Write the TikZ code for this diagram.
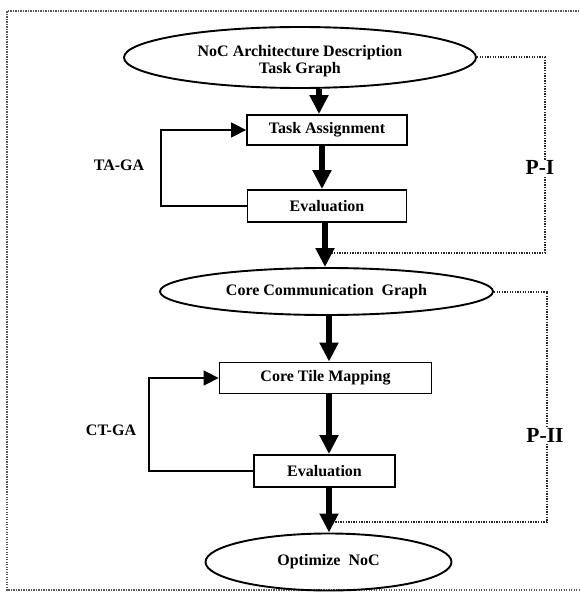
\documentclass[tikz,border=0pt]{standalone}
\usepackage{fontspec}
\setmainfont{Liberation Serif}
\usetikzlibrary{shapes.geometric,arrows.meta,calc}

\tikzset{
  txt/.style={font=\fontsize{16}{17}\selectfont\bfseries},
  plab/.style={font=\fontsize{21.5}{22}\selectfont\bfseries, fill=white, inner sep=0.5pt},
  oval/.style={ellipse, draw, line width=1.9pt, inner sep=0pt, txt, align=center},
  stepbox/.style={rectangle, draw, line width=1.8pt, inner sep=0pt, txt},
  bigarrow/.style={line width=6.5pt, -{Triangle[length=19pt,width=18pt]}},
  looparrow/.style={line width=1.5pt, -{Triangle[length=15pt,width=15pt]}},
  pdot/.style={line width=2pt, dash pattern=on 1.3pt off 1.3pt, black!85},
  frame/.style={line width=1.7pt, dash pattern=on 1.2pt off 1.3pt, black!65}
}

\begin{document}
\begin{tikzpicture}[x=1pt, y=-1pt]
  \useasboundingbox (0,0) rectangle (579,593);

  % outer dotted border
  \draw[frame] (579,11) -- (7,11) -- (7,590) -- (579,590);

  % phase I
  \node[oval, minimum width=352pt, minimum height=61pt] (tg) at (300,57.5)
    {\rule{0pt}{19pt}NoC Architecture Description\\Task Graph};
  \node[stepbox, minimum width=160pt, minimum height=30pt] (ta) at (327,130) {Task Assignment};
  \node[stepbox, minimum width=159pt, minimum height=32pt] (ev1) at (327,206) {Evaluation};

  % phase II
  \node[oval, minimum width=333pt, minimum height=47pt] (ccg) at (326.5,291.5)
    {Core Communication\ \ Graph};
  \node[stepbox, minimum width=212pt, minimum height=31pt] (ctm) at (325.5,378) {Core Tile Mapping};
  \node[stepbox, minimum width=141pt, minimum height=32pt] (ev2) at (324.5,471) {Evaluation};
  \node[oval, minimum width=246pt, minimum height=57pt] (on) at (328.5,562) {Optimize\ \ NoC};

  % main flow
  \draw[bigarrow] ($(tg.south)+(19,0)$) -- ($(ta.north)+(-8,0)$);
  \draw[bigarrow] ($(ta.south)+(-5,0)$) -- ($(ev1.north)+(-5,0)$);
  \draw[bigarrow] ($(ev1.south)+(-2,0)$) -- ($(ccg.north)+(-1.5,0)$);
  \draw[bigarrow] ($(ccg.south)+(2.5,0)$) -- ($(ctm.north)+(3.5,0)$);
  \draw[bigarrow] ($(ctm.south)+(3.5,0)$) -- ($(ev2.north)+(4.5,0)$);
  \draw[bigarrow] ($(ev2.south)+(4.5,0)$) -- ($(on.north)+(0.5,0)$);

  % GA loops
  \coordinate (l1) at (161,0);
  \coordinate (l2) at (149,0);
  \draw[looparrow] (ev1.west) -| (l1 |- ta.west) -- (ta.west);
  \draw[looparrow] (ev2.west) -| (l2 |- ctm.west) -- (ctm.west);
  \node[txt] (taga) at (119,165) {TA-GA};
  \node[txt] (ctga) at (111,430) {CT-GA};

  % phase brackets
  \coordinate (r1) at (545,253);
  \coordinate (e1) at (332,253);
  \coordinate (r2) at (547,522);
  \coordinate (e2) at (334,522);
  \draw[pdot] (tg.east) -| (r1) -- (e1);
  \draw[pdot] (ccg.east) -| (r2) -- (e2);
  \node[plab] (p1) at (540,167.5) {P-I};
  \node[plab] (p2) at (545,435.5) {P-II};
\end{tikzpicture}
\end{document}
